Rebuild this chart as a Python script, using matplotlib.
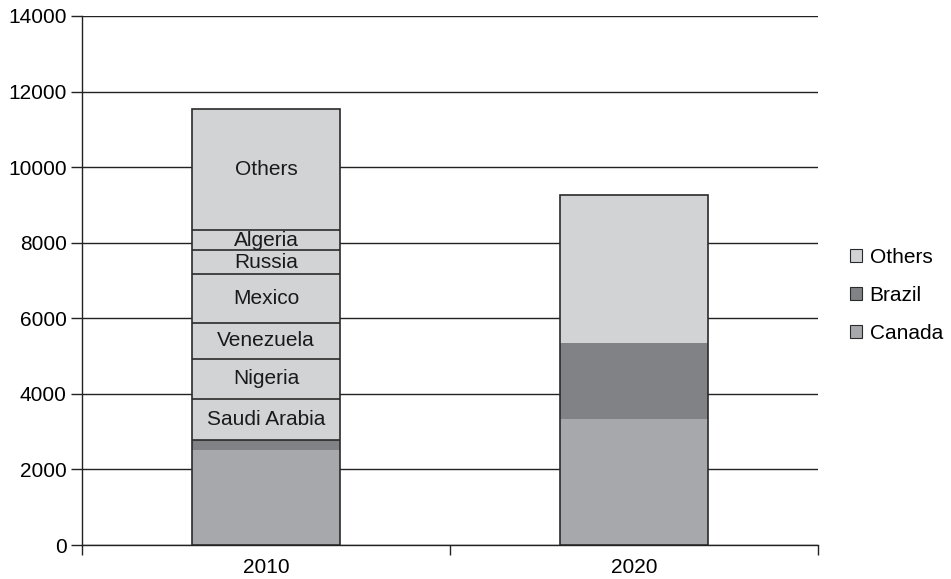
import matplotlib.pyplot as plt
import numpy as np
from matplotlib.patches import Patch

plt.rcParams["font.family"] = ["Liberation Sans", "DejaVu Sans"]

years = ["2010", "2020"]

# 2010 stack, bottom to top
segments_2010 = ["Canada", "Brazil", "Saudi Arabia", "Nigeria", "Venezuela",
                 "Mexico", "Russia", "Algeria", "Others"]
values_2010 = [2520, 260, 1090, 1060, 945, 1296, 635, 530, 3210]

# 2020 stack, bottom to top
segments_2020 = ["Canada", "Brazil", "Others"]
values_2020 = [3334, 2011, 3925]

colors = {"Canada": "#a7a8ab", "Brazil": "#818286"}
light = "#d2d3d5"
edge = "#2a2a2a"

fig = plt.figure(figsize=(9.51, 5.79), dpi=100)
ax = fig.add_axes([0.0862, 0.0587, 0.774, 0.9137])

width = 0.4
x = np.arange(len(years))

for xi, names, vals in [(x[0], segments_2010, values_2010),
                        (x[1], segments_2020, values_2020)]:
    bottoms = np.concatenate([[0], np.cumsum(vals)[:-1]])
    for name, v, b in zip(names, vals, bottoms):
        ax.bar(xi, v, width, bottom=b, color=colors.get(name, light),
               linewidth=0, zorder=3)
    # outline of the whole stack
    ax.bar(xi, sum(vals), width, fill=False, edgecolor=edge,
           linewidth=1.2, zorder=4)

# separators and labels for the 2010 supplier breakdown
tops = np.cumsum(values_2010)
bottoms = tops - np.array(values_2010)
for i, name in enumerate(segments_2010):
    if i < 2:
        continue
    ax.hlines(bottoms[i], x[0] - width / 2, x[0] + width / 2, color=edge,
              linewidth=1.2, zorder=4)
    ax.text(x[0], bottoms[i] + values_2010[i] / 2, name, ha="center",
            va="center", fontsize=15, color="#1a1a1a", zorder=5)

ax.set_xlim(-0.5, 1.5)
ax.set_ylim(0, 14000)
ax.set_yticks(np.arange(0, 14001, 2000))
ax.set_xticks(x)
ax.set_xticklabels(years)
ax.set_xticks([-0.5, 0.5, 1.5], minor=True)
ax.tick_params(axis="x", which="major", length=0, labelsize=15, pad=9)
ax.tick_params(axis="x", which="minor", length=7, width=1, color="#222222")
ax.tick_params(axis="y", length=8, width=1, labelsize=15, color="#222222",
               pad=3)
ax.yaxis.grid(True, color="#222222", linewidth=1, zorder=0)
ax.set_axisbelow(True)
for s in ["top", "right"]:
    ax.spines[s].set_visible(False)
for s in ["left", "bottom"]:
    ax.spines[s].set_color("#222222")
    ax.spines[s].set_linewidth(1)

handles = [Patch(facecolor=light, edgecolor=edge, linewidth=0.8, label="Others"),
           Patch(facecolor=colors["Brazil"], edgecolor=edge, linewidth=0.8, label="Brazil"),
           Patch(facecolor=colors["Canada"], edgecolor=edge, linewidth=0.8, label="Canada")]
fig.legend(handles=handles, loc="center left", bbox_to_anchor=(0.874, 0.49),
           frameon=False, fontsize=15, handlelength=0.6, handleheight=0.6,
           handletextpad=0.35, labelspacing=0.92)

plt.savefig("out.png", dpi=100)
